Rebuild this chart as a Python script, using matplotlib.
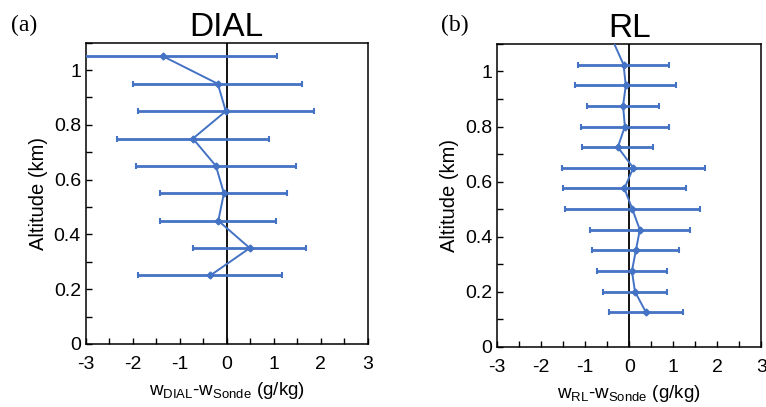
import matplotlib.pyplot as plt
from matplotlib.ticker import MultipleLocator, FuncFormatter

plt.rcParams['font.family'] = ['Liberation Sans', 'DejaVu Sans']
plt.rcParams['axes.unicode_minus'] = False

blue = '#4472C4'

# DIAL minus sonde
dial_alt = [0.25, 0.35, 0.45, 0.55, 0.65, 0.75, 0.85, 0.95, 1.05]
dial_diff = [-0.35, 0.49, -0.18, -0.06, -0.23, -0.72, -0.02, -0.19, -1.35]
dial_err = [1.53, 1.20, 1.23, 1.35, 1.71, 1.62, 1.87, 1.80, 2.43]

# Raman lidar minus sonde
rl_alt = [0.125, 0.2, 0.275, 0.35, 0.425, 0.5, 0.575, 0.65, 0.725, 0.8, 0.875, 0.95, 1.025, 1.175]
rl_diff = [0.38, 0.13, 0.06, 0.15, 0.24, 0.07, -0.11, 0.09, -0.26, -0.10, -0.14, -0.08, -0.13, -0.55]
rl_err = [0.83, 0.72, 0.80, 0.99, 1.13, 1.54, 1.39, 1.62, 0.81, 1.00, 0.82, 1.15, 1.03, 0.0]

panels = [
    (dial_diff, dial_alt, dial_err, 'DIAL', '(a)', 'DIAL', [0.112, 0.155, 0.368, 0.740], 0.014),
    (rl_diff, rl_alt, rl_err, 'RL', '(b)', 'RL', [0.649, 0.148, 0.345, 0.744], 0.576),
]

fig = plt.figure(figsize=(7.66, 4.07), dpi=100)

for x, y, err, title, tag, sub, rect, tag_x in panels:
    ax = fig.add_axes(rect)
    ax.axvline(0, color='black', lw=1.3, zorder=1)
    ax.errorbar(x, y, xerr=err, fmt='-D', color=blue, ms=3.5, lw=1.4,
                elinewidth=2, capsize=2, capthick=1.5, zorder=3)
    ax.set_xlim(-3, 3)
    ax.set_ylim(0, 1.1)
    ax.xaxis.set_major_locator(MultipleLocator(1))
    ax.xaxis.set_minor_locator(MultipleLocator(0.5))
    ax.yaxis.set_major_locator(MultipleLocator(0.2))
    ax.yaxis.set_minor_locator(MultipleLocator(0.1))
    ax.yaxis.set_major_formatter(FuncFormatter(lambda v, p: f'{v:g}'))
    ax.tick_params(which='both', direction='in', length=4, width=1,
                   top=False, right=False, labelsize=14)
    ax.tick_params(axis='x', pad=9)
    for s in ax.spines.values():
        s.set_linewidth(1.1)
    ax.set_ylabel('Altitude (km)', fontsize=14.5)
    ax.set_xlabel(r'w$_{\mathregular{%s}}$-w$_{\mathregular{Sonde}}$ (g/kg)' % sub,
                  fontsize=13.5, labelpad=5)
    ax.set_title(title, fontsize=24, pad=5)
    fig.text(tag_x, 0.937, tag, fontsize=17, family='Liberation Serif', va='center')

fig.savefig('out.png', dpi=100)
